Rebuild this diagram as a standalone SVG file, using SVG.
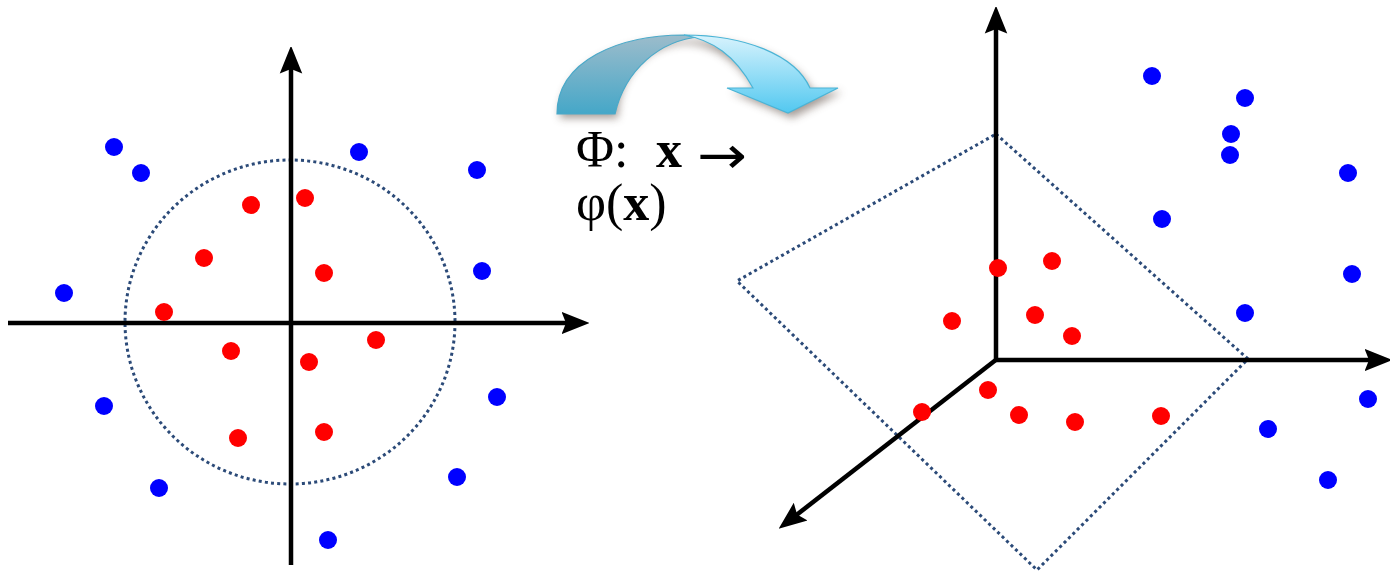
<svg xmlns="http://www.w3.org/2000/svg" width="1390" height="572" viewBox="0 0 1390 572">
<style>
.axis{stroke:#000;stroke-width:4.5;fill:none}
.dotline{stroke:#2b4a78;stroke-width:3;stroke-dasharray:3 3.2;fill:none}
.r{fill:#ff0000}
.b{fill:#0000ff}
.t{font-family:"Liberation Serif","Times New Roman",serif;font-size:52px;fill:#000}
</style>
<defs>
<marker id="ah" markerWidth="6" markerHeight="6" refX="3" refY="3" orient="auto" markerUnits="strokeWidth"><path d="M0,0.5 L6.2,3 L0,5.5 L1,3 Z" fill="#000"/></marker>
<linearGradient id="gl" x1="0" y1="0" x2="0" y2="1"><stop offset="0" stop-color="#9cbccb"/><stop offset="1" stop-color="#45a7c8"/></linearGradient>
<linearGradient id="gr" x1="0" y1="0" x2="0" y2="1"><stop offset="0" stop-color="#d8f3fd"/><stop offset="1" stop-color="#52c8f0"/></linearGradient>
<filter id="sh" x="-20%" y="-20%" width="140%" height="160%"><feGaussianBlur stdDeviation="4"/></filter>
</defs>

<g id="left-plot">
<ellipse class="dotline" cx="290" cy="322" rx="165" ry="162"/>
<g id="left-axes">
<line class="axis" x1="8" y1="323" x2="575" y2="323" marker-end="url(#ah)"/>
<line class="axis" x1="291" y1="565" x2="291" y2="60" marker-end="url(#ah)"/>
</g>
<g id="left-blue">
<circle class="b" cx="114" cy="147" r="9"/><circle class="b" cx="141" cy="173" r="9"/>
<circle class="b" cx="359" cy="152" r="9"/><circle class="b" cx="477" cy="170" r="9"/>
<circle class="b" cx="64" cy="293" r="9"/><circle class="b" cx="482" cy="271" r="9"/>
<circle class="b" cx="104" cy="406" r="9"/><circle class="b" cx="497" cy="397" r="9"/>
<circle class="b" cx="159" cy="488" r="9"/><circle class="b" cx="457" cy="477" r="9"/>
<circle class="b" cx="328" cy="540" r="9"/>
</g>
<g id="left-red">
<circle class="r" cx="251" cy="205" r="9"/><circle class="r" cx="305" cy="198" r="9"/>
<circle class="r" cx="204" cy="258" r="9"/><circle class="r" cx="324" cy="273" r="9"/>
<circle class="r" cx="164" cy="312" r="9"/><circle class="r" cx="231" cy="351" r="9"/>
<circle class="r" cx="376" cy="340" r="9"/><circle class="r" cx="309" cy="362" r="9"/>
<circle class="r" cx="238" cy="438" r="9"/><circle class="r" cx="324" cy="432" r="9"/>
</g>
</g>

<g id="mapping-arrow">
<path d="M560,118 C560,64 622,40 686,40 C748,40 798,60 813,92 L842,92 L792,118 L731,92 L757,92 C738,60 712,44 686,44 C648,44 618,74 618,118 Z" fill="#5a4a40" opacity="0.55" filter="url(#sh)"/>
<path d="M557,114 C557,60 620,35 684,35 L700,37 C660,40 625,70 615,114 Z" fill="url(#gl)" stroke="#4aa9c9" stroke-width="1.2"/>
<path d="M684,35 C745,35 795,55 810,88 L838,88 L788,113 L727,88 L753,88 C735,55 712,40 684,35 Z" fill="url(#gr)" stroke="#4ab4d6" stroke-width="1.2"/>
</g>

<g id="label">
<text class="t" x="576" y="167">Φ:</text>
<text class="t" x="656" y="167" font-weight="bold">x</text>
<text x="697" y="173" font-family="DejaVu Sans, sans-serif" font-size="52" textLength="50" lengthAdjust="spacingAndGlyphs">→</text>
<text class="t" x="576" y="220">φ(<tspan font-weight="bold">x</tspan>)</text>
</g>

<g id="right-plot">
<polygon class="dotline" points="996,134 1248,359 1037,570 737,281"/>
<g id="right-axes">
<line class="axis" x1="996" y1="362" x2="996" y2="20" marker-end="url(#ah)"/>
<line class="axis" x1="994" y1="360" x2="1378" y2="360" marker-end="url(#ah)"/>
<line class="axis" x1="997" y1="359" x2="790" y2="520" marker-end="url(#ah)"/>
</g>
<g id="right-blue">
<circle class="b" cx="1152" cy="76" r="9"/><circle class="b" cx="1245" cy="98" r="9"/>
<circle class="b" cx="1231" cy="134" r="9"/><circle class="b" cx="1230" cy="155" r="9"/>
<circle class="b" cx="1348" cy="173" r="9"/><circle class="b" cx="1162" cy="219" r="9"/>
<circle class="b" cx="1352" cy="274" r="9"/><circle class="b" cx="1245" cy="313" r="9"/>
<circle class="b" cx="1368" cy="399" r="9"/><circle class="b" cx="1268" cy="429" r="9"/>
<circle class="b" cx="1328" cy="480" r="9"/>
</g>
<g id="right-red">
<circle class="r" cx="998" cy="268" r="9"/><circle class="r" cx="1052" cy="261" r="9"/>
<circle class="r" cx="952" cy="321" r="9"/><circle class="r" cx="1035" cy="315" r="9"/>
<circle class="r" cx="1072" cy="336" r="9"/><circle class="r" cx="988" cy="390" r="9"/>
<circle class="r" cx="922" cy="412" r="9"/><circle class="r" cx="1019" cy="415" r="9"/>
<circle class="r" cx="1075" cy="422" r="9"/><circle class="r" cx="1161" cy="416" r="9"/>
</g>
</g>
</svg>
